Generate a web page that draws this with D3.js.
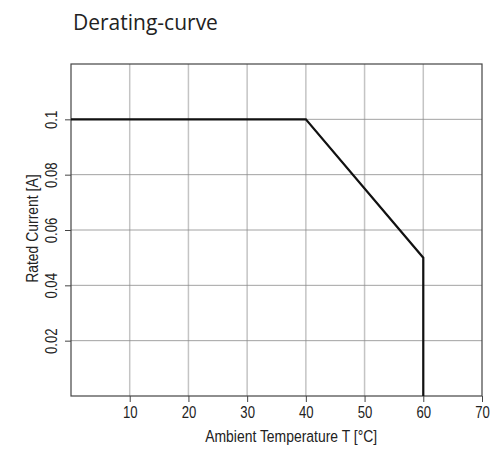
<!DOCTYPE html>
<html>
<head>
<meta charset="utf-8">
<script src="https://cdn.jsdelivr.net/npm/d3@7"></script>
<style>
  body { margin: 0; background: #fff; }
</style>
</head>
<body>
<div id="chart"></div>
<script>
// derating curve: temperature (°C) vs rated current (A)
var temps = [ 0, 40, 60, 60 ];
var currents = [ 0.1, 0.1, 0.05, 0 ];
var xTicks = [ 10, 20, 30, 40, 50, 60, 70 ];
var yTicks = [ 0.02, 0.04, 0.06, 0.08, 0.1 ];

var width = 494, height = 451;
var margin = { top: 64, right: 12, bottom: 55, left: 71 };
var innerWidth = width - margin.left - margin.right,
  innerHeight = height - margin.top - margin.bottom;

// no condensed font installed, so squeeze Liberation Sans horizontally
var narrowFont = "'Liberation Sans', Arial, sans-serif";
var squeeze = "scale(0.82,1)";

var svg = d3.select( "#chart" ).append( "svg" )
  .attr( "width", width )
  .attr( "height", height );

svg.append( "text" )
  .attr( "x", 73 )
  .attr( "y", 30 )
  .attr( "font-family", "'Open Sans', 'Noto Sans', sans-serif" )
  .attr( "font-size", 21 )
  .attr( "fill", "#222" )
  .text( "Derating-curve" );

var g = svg.append( "g" )
  .attr( "transform", "translate(" + margin.left + "," + margin.top + ")" );

var xScale = d3.scaleLinear().domain( [ 0, 70 ] ).range( [ 0, innerWidth ] );
var yScale = d3.scaleLinear().domain( [ 0, 0.12 ] ).range( [ innerHeight, 0 ] );

// vertical grid (light)
g.selectAll( ".vgrid" )
  .data( xTicks.slice( 0, -1 ) )
  .enter().append( "line" )
    .attr( "class", "vgrid" )
    .attr( "x1", d => xScale( d ) ).attr( "x2", d => xScale( d ) )
    .attr( "y1", 0 ).attr( "y2", innerHeight )
    .style( "stroke", "#c4c4c4" )
    .style( "stroke-width", 1.5 );

// horizontal grid (darker, thin)
g.selectAll( ".hgrid" )
  .data( yTicks )
  .enter().append( "line" )
    .attr( "class", "hgrid" )
    .attr( "x1", 0 ).attr( "x2", innerWidth )
    .attr( "y1", d => yScale( d ) ).attr( "y2", d => yScale( d ) )
    .style( "stroke", "#8a8a8a" )
    .style( "stroke-width", 0.8 );

// frame
g.append( "rect" )
  .attr( "width", innerWidth )
  .attr( "height", innerHeight )
  .style( "fill", "none" )
  .style( "stroke", "#444" )
  .style( "stroke-width", 1.2 );

// x axis
var xAxis = g.append( "g" )
  .attr( "transform", "translate(0," + innerHeight + ")" )
  .call( d3.axisBottom( xScale ).tickValues( xTicks ).tickSize( 6 ).tickPadding( 5 ) )
  .attr( "font-family", narrowFont )
  .attr( "font-size", 16 );
xAxis.select( ".domain" ).remove();
xAxis.selectAll( "line" ).attr( "stroke", "#444" );
xAxis.selectAll( "text" )
  .attr( "transform", squeeze )
  .attr( "fill", "#222" );

// y axis with rotated labels
var yAxis = g.append( "g" )
  .call( d3.axisLeft( yScale ).tickValues( yTicks ).tickSize( 6 ).tickFormat( d3.format( "~g" ) ) )
  .attr( "font-family", narrowFont )
  .attr( "font-size", 16 );
yAxis.select( ".domain" ).remove();
yAxis.selectAll( "line" ).attr( "stroke", "#444" );
yAxis.selectAll( "text" )
  .attr( "x", null ).attr( "dy", null )
  .attr( "transform", "translate(-14,0) rotate(-90) " + squeeze )
  .attr( "text-anchor", "middle" )
  .attr( "fill", "#222" );

// axis titles
svg.append( "text" )
  .attr( "transform", "translate(" + ( margin.left + xScale( 37.5 ) ) + ",442) " + squeeze )
  .attr( "text-anchor", "middle" )
  .attr( "font-family", narrowFont )
  .attr( "font-size", 17 )
  .attr( "fill", "#222" )
  .text( "Ambient Temperature T [°C]" );

svg.append( "text" )
  .attr( "transform", "translate(38," + ( margin.top + yScale( 0.0605 ) ) + ") rotate(-90) " + squeeze )
  .attr( "text-anchor", "middle" )
  .attr( "font-family", narrowFont )
  .attr( "font-size", 17 )
  .attr( "fill", "#222" )
  .text( "Rated Current [A]" );

// curve
var points = temps.map( ( t, i ) => [ t, currents[ i ] ] );
g.append( "path" )
  .datum( points )
  .attr( "d", d3.line().x( d => xScale( d[ 0 ] ) ).y( d => yScale( d[ 1 ] ) ) )
  .style( "fill", "none" )
  .style( "stroke", "#111" )
  .style( "stroke-width", 2.2 );
</script>
</body>
</html>
